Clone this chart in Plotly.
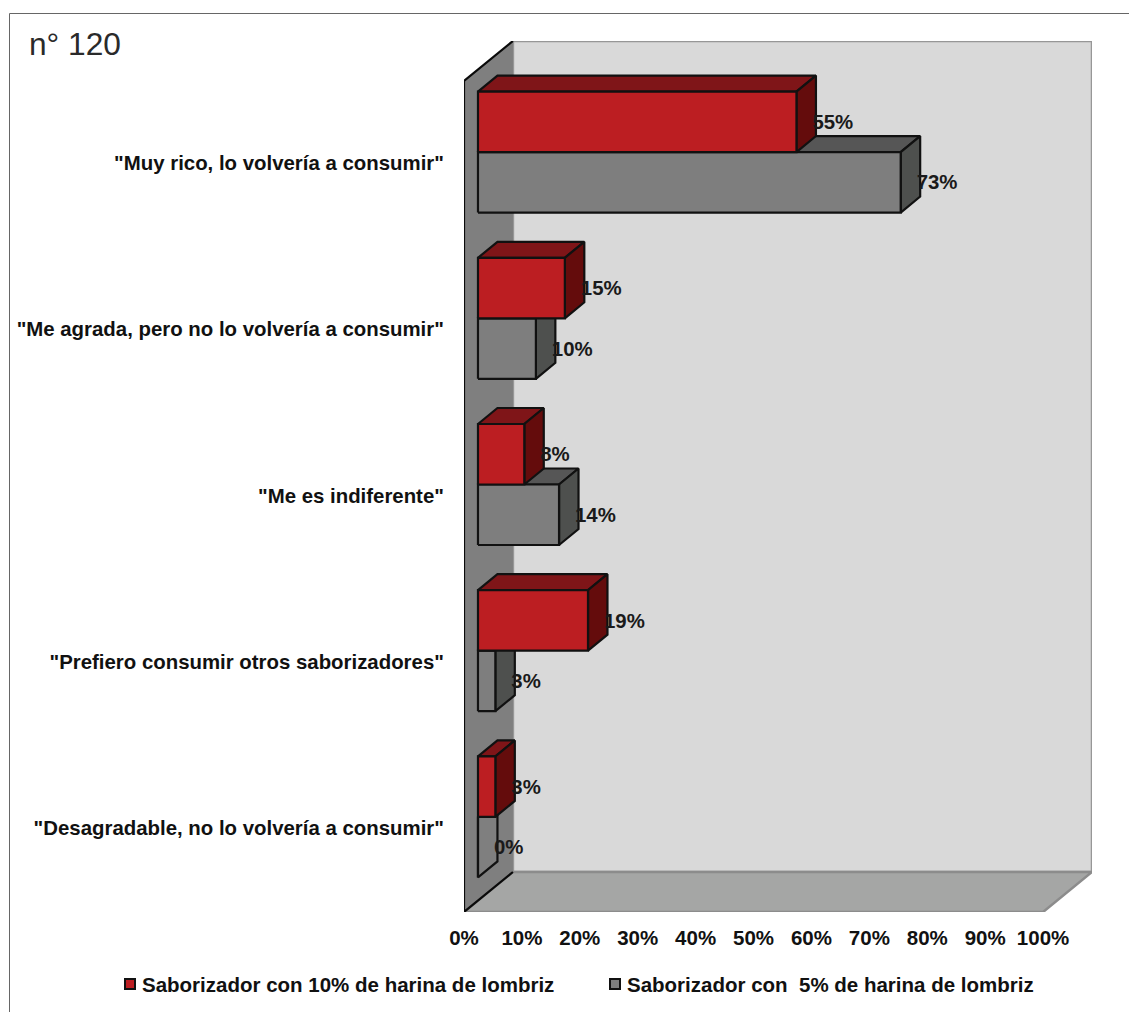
import plotly.graph_objects as go

# Survey responses, listed from the top row of the chart to the bottom
categories = [
    '"Muy rico, lo volvería a consumir"',
    '"Me agrada, pero no lo volvería a consumir"',
    '"Me es indiferente"',
    '"Prefiero consumir otros saborizadores"',
    '"Desagradable, no lo volvería a consumir"',
]
series_10_name = "Saborizador con 10% de harina de lombriz"
series_5_name = "Saborizador con  5% de harina de lombriz"
series_10 = [55, 15, 8, 19, 3]
series_5 = [73, 10, 14, 3, 0]
percent_ticks = [0, 10, 20, 30, 40, 50, 60, 70, 80, 90, 100]

RED, GRAY = "#BC1E22", "#7E7E7E"
INK = "#111111"
FONT = "Liberation Sans"
PX_X = 5.8      # pixels per percentage point
PX_Y = 166.2    # pixels per category row
W, H = 1129, 1012
LEFT, TOP, RIGHT_EDGE, BOTTOM = 464, 41, 1092, 912


def dx(px):
    return px / PX_X


def dy(px):
    return px / PX_Y


# Oblique projection offsets for the fake 3D box
ROOM_DX, ROOM_DY = dx(49), dy(40)      # depth of the whole chart box
PLANE_DX, PLANE_DY = dx(14), dy(12)    # front plane of the bars
BAR_DX, BAR_DY = dx(19.5), dy(16)      # depth of one bar
BAR_H = dy(60.5)                       # thickness of one bar
ROWS = (BOTTOM - TOP - 40) / PX_Y
X_MAX = 100 + ROOM_DX
Y_MAX = ROWS + ROOM_DY


def poly(points):
    xs = [p[0] for p in points] + [points[0][0]]
    ys = [p[1] for p in points] + [points[0][1]]
    return xs, ys


def add_poly(fig, points, fill, line, width=1.5):
    xs, ys = poly(points)
    fig.add_trace(go.Scatter(
        x=xs, y=ys, mode="lines", fill="toself", fillcolor=fill,
        line=dict(color=line, width=width), hoverinfo="skip", showlegend=False,
    ))


def add_faces(fig, boxes, fill, line, width=2.2):
    """Draw a set of separate polygons as a single filled trace."""
    xs, ys = [], []
    for b in boxes:
        px, py = poly(b)
        xs += px + [None]
        ys += py + [None]
    fig.add_trace(go.Scatter(
        x=xs, y=ys, mode="lines", fill="toself" if fill else "none",
        fillcolor=fill, line=dict(color=line, width=width),
        hoverinfo="skip", showlegend=False,
    ))


def bar_faces(value, y_low):
    x0 = PLANE_DX
    x1 = PLANE_DX + value
    y0 = y_low
    y1 = y_low + BAR_H
    front = [(x0, y0), (x1, y0), (x1, y1), (x0, y1)]
    top = [(x0, y1), (x1, y1), (x1 + BAR_DX, y1 + BAR_DY), (x0 + BAR_DX, y1 + BAR_DY)]
    side = [(x1, y0), (x1 + BAR_DX, y0 + BAR_DY), (x1 + BAR_DX, y1 + BAR_DY), (x1, y1)]
    return front, top, side


fig = go.Figure()

# Back wall, floor and side wall of the box
add_poly(fig, [(ROOM_DX, ROOM_DY), (X_MAX, ROOM_DY), (X_MAX, Y_MAX), (ROOM_DX, Y_MAX)],
         "#D9D9D9", "#979797", 2.5)
add_poly(fig, [(0, 0), (100, 0), (X_MAX, ROOM_DY), (ROOM_DX, ROOM_DY)],
         "#A5A6A5", "#8C8C8C", 2.5)
add_poly(fig, [(0, 0), (ROOM_DX, ROOM_DY), (ROOM_DX, Y_MAX), (0, ROWS)],
         "#7F7F7F", "rgba(0,0,0,0)", 0)
fig.add_trace(go.Scatter(
    x=[ROOM_DX, 0, 0, ROOM_DX], y=[Y_MAX, ROWS, 0, ROOM_DY], mode="lines",
    line=dict(color="#0A0A0A", width=2.2), hoverinfo="skip", showlegend=False,
))

# Row k, counted from the top, has its red bar above its gray bar
row_center = [ROWS - k - 0.5 + PLANE_DY for k in range(len(categories))]

gray = [bar_faces(v, c - BAR_H) for v, c in zip(series_5, row_center)]
red = [bar_faces(v, c) for v, c in zip(series_10, row_center)]

# A zero-length bar only shows its empty outline
add_faces(fig, [g[2] for g, v in zip(gray, series_5) if v == 0], None, INK)
add_faces(fig, [g[1] for g, v in zip(gray, series_5) if v > 0], "#565656", INK)
add_faces(fig, [g[2] for g, v in zip(gray, series_5) if v > 0], "#4E504E", INK)
add_faces(fig, [g[0] for g in gray], GRAY, INK)
add_faces(fig, [r[1] for r in red], "#7F1518", INK)
add_faces(fig, [r[2] for r in red], "#640C0C", INK)
add_faces(fig, [r[0] for r in red], RED, INK)

# Value labels sit just past the right face of each bar
label_x, label_y, label_text = [], [], []
for vals, shift in ((series_10, BAR_H / 2), (series_5, -BAR_H / 2)):
    for v, c in zip(vals, row_center):
        label_x.append(PLANE_DX + v + dx(16))
        label_y.append(c + shift - dy(2))
        label_text.append(f"{v}%")
fig.add_trace(go.Scatter(
    x=label_x, y=label_y, text=label_text, mode="text",
    textposition="middle right", cliponaxis=False,
    textfont=dict(family=FONT, size=20.4, color="#1A1A1A", weight=700),
    hoverinfo="skip", showlegend=False,
))


def to_paper_x(px):
    return (px - LEFT) / (RIGHT_EDGE - LEFT)


def to_paper_y(px):
    return (BOTTOM - px) / (BOTTOM - TOP)


# Thin frame lines along the top and left of the page
frame = dict(type="line", xref="paper", yref="paper",
             line=dict(color="#666666", width=1), layer="above")
fig.add_shape(x0=to_paper_x(9.5), x1=to_paper_x(W), y0=to_paper_y(13.5), y1=to_paper_y(13.5), **frame)
fig.add_shape(x0=to_paper_x(9.5), x1=to_paper_x(9.5), y0=to_paper_y(13.5), y1=to_paper_y(H), **frame)

fig.add_annotation(
    text="n° 120", xref="paper", yref="paper",
    x=to_paper_x(27), y=to_paper_y(44), xanchor="left", yanchor="middle",
    showarrow=False, font=dict(family=FONT, size=31.7, color="#2A2A2A"),
)

# Legend row: swatch and caption for each series
for name, colour, swatch_px in ((series_10_name, RED, 125), (series_5_name, GRAY, 610)):
    fig.add_shape(
        type="rect", xref="paper", yref="paper", layer="above",
        x0=to_paper_x(swatch_px), x1=to_paper_x(swatch_px + 10),
        y0=to_paper_y(979), y1=to_paper_y(989),
        fillcolor=colour, line=dict(color=INK, width=2),
    )
    fig.add_annotation(
        text=name.replace("  ", "\u00a0 "), xref="paper", yref="paper",
        x=to_paper_x(swatch_px + 15), y=to_paper_y(984),
        xanchor="left", yanchor="middle", showarrow=False,
        font=dict(family=FONT, size=20.5, color=INK, weight=700),
    )

fig.update_layout(
    width=W, height=H, autosize=False, showlegend=False,
    paper_bgcolor="white", plot_bgcolor="white",
    margin=dict(l=LEFT, r=W - RIGHT_EDGE, t=TOP, b=H - BOTTOM, pad=0, autoexpand=False),
    xaxis=dict(
        range=[0, X_MAX], tickvals=percent_ticks,
        ticktext=[f"{t}%" for t in percent_ticks],
        ticks="outside", ticklen=7, tickcolor="rgba(0,0,0,0)",
        showgrid=False, zeroline=False, showline=False,
        tickfont=dict(family=FONT, size=20.5, color=INK, weight=700),
    ),
    yaxis=dict(
        range=[0, Y_MAX], tickvals=[ROWS - k - 0.5 + dy(1) for k in range(len(categories))],
        ticktext=categories,
        ticks="outside", ticklen=15, tickcolor="rgba(0,0,0,0)",
        showgrid=False, zeroline=False, showline=False,
        tickfont=dict(family=FONT, size=20.4, color=INK, weight=700),
    ),
)

fig.write_html("out.html")
